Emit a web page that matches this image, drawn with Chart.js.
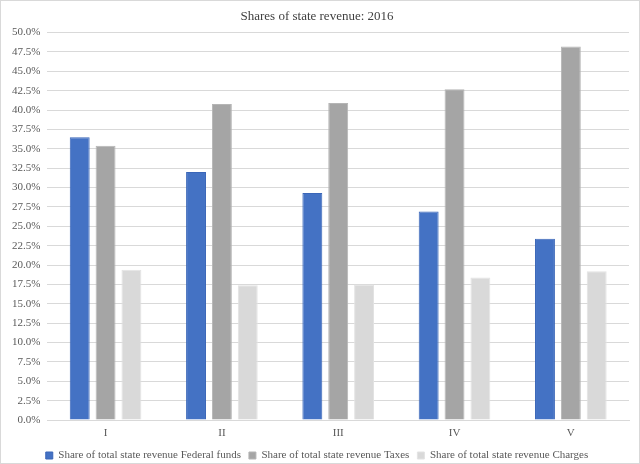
<!DOCTYPE html>
<html><head><meta charset="utf-8">
<script src="https://cdn.jsdelivr.net/npm/chart.js@4/dist/chart.umd.min.js"></script>
<style>
html,body{margin:0;padding:0;background:#fff;}
#wrap{position:absolute;left:0;top:0;width:638px;height:462px;border:1px solid #d9d9d9;}
</style></head>
<body><div id="wrap"><canvas id="c"></canvas></div>
<script>
const categories = ["I","II","III","IV","V"];
const federalFunds = [36.5, 32.0, 29.3, 26.9, 23.4];
const taxes = [35.4, 40.8, 40.9, 42.7, 48.2];
const charges = [19.4, 17.4, 17.5, 18.4, 19.2];
const seriesNames = ["Share of total state revenue Federal funds","Share of total state revenue Taxes","Share of total state revenue Charges"];
const titleText = "Shares of state revenue: 2016";

const font = "'Liberation Serif', 'DejaVu Serif', serif";
Chart.defaults.font.family = font;
Chart.defaults.color = '#595959';

new Chart(document.getElementById('c'), {
  type: 'bar',
  data: {
    labels: categories,
    datasets: [
      {label: seriesNames[0], data: federalFunds, backgroundColor: '#4472c4', borderColor: '#3a66b8', borderWidth: 1},
      {label: seriesNames[1], data: taxes, backgroundColor: '#a5a5a5', borderColor: '#b5b5b5', borderWidth: 1},
      {label: seriesNames[2], data: charges, backgroundColor: '#d9d9d9', borderColor: '#e3e3e3', borderWidth: 1}
    ]
  },
  options: {
    responsive: true,
    maintainAspectRatio: false,
    animation: false,
    layout: {padding: {left: 4, right: 10, top: 4, bottom: -8}},
    datasets: {bar: {categoryPercentage: 0.667, barPercentage: 0.77}},
    plugins: {
      title: {display: true, text: titleText, color: '#404040', font: {size: 13, weight: 'normal', family: font}, padding: {top: 4, bottom: 8}},
      legend: {position: 'bottom', labels: {boxWidth: 7, boxHeight: 7, color: '#595959', font: {size: 11, family: font, lineHeight: 1}, padding: 8}},
      tooltip: {enabled: false}
    },
    scales: {
      x: {
        grid: {display: false, drawTicks: false},
        border: {display: true, color: '#d9d9d9'},
        ticks: {color: '#595959', font: {size: 11, family: font, lineHeight: 1}, padding: 8},
        afterFit: s => { s.height = 22; }
      },
      y: {
        min: 0, max: 50,
        grid: {color: '#d9d9d9', drawTicks: false},
        border: {display: false},
        ticks: {stepSize: 2.5, color: '#595959', font: {size: 11, family: font}, padding: 7,
          callback: v => v.toFixed(1) + '%'}
      }
    }
  }
});
</script></body></html>
